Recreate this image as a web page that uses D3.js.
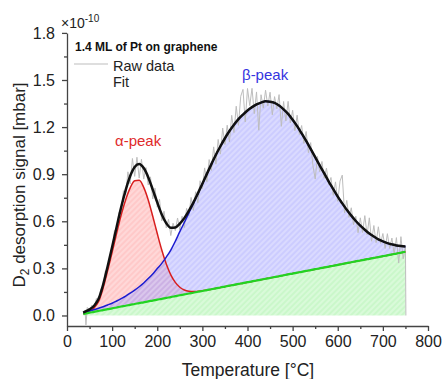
<!DOCTYPE html>
<html><head><meta charset="utf-8">
<script src="https://cdn.jsdelivr.net/npm/d3@7"></script>
<style>body{margin:0;background:#fff} svg{display:block} text{font-family:Arial,"Liberation Sans",sans-serif}</style>
</head><body><svg id="c" width="443" height="379"></svg>
<script>
// ---- data (values in units of 1e-10 mbar) ----
const fitT = [36,40,50,60,70,80,90,100,110,120,130,140,150,160,170,180,190,200,210,220,230,240,250,260,270,280,290,300,310,320,330,340,350,360,370,380,390,400,410,420,430,440,450,460,470,480,490,500,510,520,530,540,550,560,570,580,590,600,610,620,630,640,650,660,670,680,690,700,710,720,730,740,750];
const baseline = [0.010,0.012,0.018,0.023,0.029,0.034,0.040,0.045,0.051,0.057,0.062,0.068,0.073,0.079,0.084,0.090,0.095,0.101,0.106,0.112,0.117,0.123,0.129,0.134,0.140,0.145,0.151,0.156,0.162,0.167,0.173,0.178,0.184,0.190,0.195,0.201,0.206,0.212,0.217,0.223,0.228,0.234,0.239,0.245,0.250,0.256,0.262,0.267,0.273,0.278,0.284,0.289,0.295,0.300,0.306,0.311,0.317,0.322,0.328,0.334,0.339,0.345,0.350,0.356,0.361,0.367,0.372,0.378,0.383,0.389,0.394,0.400,0.406];
const alphaPeak = [0,0.003,0.010,0.025,0.060,0.140,0.245,0.358,0.472,0.582,0.675,0.745,0.785,0.782,0.732,0.646,0.537,0.421,0.311,0.216,0.142,0.088,0.051,0.028,0.014,0.007,0.003,0.001,0,0,0,0,0,0,0,0,0,0,0,0,0,0,0,0,0,0,0,0,0,0,0,0,0,0,0,0,0,0,0,0,0,0,0,0,0,0,0,0,0,0,0,0,0];
const betaPeak = [0.008,0.009,0.011,0.014,0.017,0.022,0.027,0.033,0.041,0.050,0.061,0.075,0.088,0.104,0.123,0.145,0.170,0.198,0.226,0.260,0.300,0.350,0.405,0.458,0.512,0.567,0.624,0.682,0.740,0.797,0.851,0.900,0.945,0.985,1.020,1.050,1.074,1.094,1.110,1.121,1.128,1.131,1.123,1.109,1.087,1.057,1.022,0.980,0.933,0.882,0.828,0.772,0.714,0.656,0.599,0.542,0.488,0.435,0.386,0.339,0.297,0.257,0.222,0.190,0.161,0.136,0.113,0.094,0.078,0.064,0.052,0.042,0.034];
const rawT = [40,42,45,50,55,60,65,70,75,80,85,90,95,100,105,110,115,120,125,130,135,140,145,150,155,160,165,170,175,180,185,190,195,200,205,210,215,220,225,230,235,240,245,250,255,260,265,270,275,280,285,290,295,300,305,310,315,320,325,330,335,340,345,350,355,360,365,370,375,380,385,390,395,400,405,410,415,420,425,430,435,440,445,450,455,460,465,470,475,480,485,490,495,500,505,510,515,520,525,530,535,540,545,550,555,560,565,570,575,580,585,590,595,600,605,610,615,620,625,630,635,640,645,650,655,660,665,670,675,680,685,690,695,700,705,710,715,720,725,730,735,740,745,750,751];
const rawV = [0.030,-0.060,0.051,0.029,0.065,0.042,0.108,0.096,0.170,0.181,0.284,0.292,0.384,0.406,0.540,0.544,0.657,0.649,0.795,0.768,0.915,0.838,1.000,0.886,1.008,0.875,0.995,0.869,0.942,0.831,0.883,0.742,0.811,0.690,0.741,0.603,0.664,0.558,0.612,0.509,0.588,0.541,0.621,0.545,0.632,0.560,0.682,0.636,0.752,0.669,0.788,0.718,0.858,0.809,0.940,0.852,0.993,0.924,1.074,0.964,1.121,1.028,1.194,1.089,1.212,1.105,1.275,1.165,1.333,1.211,1.396,1.440,1.233,1.446,1.337,1.447,1.286,1.424,1.180,1.406,1.321,1.435,1.334,1.422,1.278,1.394,1.316,1.407,1.205,1.363,1.239,1.364,1.226,1.307,1.177,1.276,1.153,1.210,1.096,1.172,1.037,1.101,0.955,0.869,1.013,0.916,0.981,0.875,0.939,0.833,0.879,0.765,0.851,0.727,0.856,0.894,0.654,0.733,0.625,0.686,0.579,0.632,0.527,0.622,0.529,0.636,0.514,0.622,0.473,0.573,0.464,0.565,0.459,0.522,0.427,0.521,0.427,0.493,0.390,0.496,0.334,0.502,0.361,0.440,0.000];
const xTicks = [0,100,200,300,400,500,600,700,800];
const xMinor = [50,150,250,350,450,550,650,750];
const yTicks = [0.0,0.3,0.6,0.9,1.2,1.5,1.8];
const yMinor = [0.15,0.45,0.75,1.05,1.35,1.65];

// ---- chart ----
const svg = d3.select("#c");
const x = d3.scaleLinear().domain([0,800]).range([67,428]);
const y = d3.scaleLinear().domain([-0.067,1.8]).range([326,32.9]);

const pts = fitT.map((t,i)=>({t, b:baseline[i], a:alphaPeak[i], be:betaPeak[i]}));

const defs = svg.append("defs");
function hatch(id, base, stripe){
  const p = defs.append("pattern").attr("id",id).attr("patternUnits","userSpaceOnUse")
    .attr("width",4).attr("height",4).attr("patternTransform","rotate(45)");
  p.append("rect").attr("width",4).attr("height",4).attr("fill",base);
  p.append("line").attr("x1",1).attr("y1",0).attr("x2",1).attr("y2",4).attr("stroke",stripe).attr("stroke-width",1.3);
}
hatch("hG","#96f096","#c4fac4");
hatch("hR","#ff9494","#ffc2c2");
hatch("hB","#9a9aff","#c6c6ff");

const cv = d3.curveMonotoneX;
const areaG = d3.area().x(d=>x(d.t)).y0(y(0)).y1(d=>y(d.b)).curve(cv);
const areaR = d3.area().x(d=>x(d.t)).y0(d=>y(d.b)).y1(d=>y(d.b+d.a)).curve(cv);
const areaB = d3.area().x(d=>x(d.t)).y0(d=>y(d.b)).y1(d=>y(d.b+d.be)).curve(cv);

svg.append("path").datum(pts).attr("d",areaG).attr("fill","url(#hG)").attr("fill-opacity",0.5);
svg.append("path").datum(pts).attr("d",areaR).attr("fill","url(#hR)").attr("fill-opacity",0.5);
svg.append("path").datum(pts).attr("d",areaB).attr("fill","url(#hB)").attr("fill-opacity",0.5);

// raw data
const raw = rawT.map((t,i)=>({t, v:rawV[i]}));
svg.append("path").datum(raw).attr("fill","none").attr("stroke","#bdbdbd").attr("stroke-width",1)
  .attr("d", d3.line().x(d=>x(d.t)).y(d=>y(d.v)));

const line = f => d3.line().x(d=>x(d.t)).y(d=>y(f(d))).curve(cv);
svg.append("path").datum(pts).attr("fill","none").attr("stroke","#d81e1e").attr("stroke-width",1.5).attr("d",line(d=>d.b+d.a));
svg.append("path").datum(pts).attr("fill","none").attr("stroke","#1c1cd0").attr("stroke-width",1.5).attr("d",line(d=>d.b+d.be));
svg.append("path").datum(pts).attr("fill","none").attr("stroke","#22d422").attr("stroke-width",2.2).attr("d",line(d=>d.b));
svg.append("path").datum(pts).attr("fill","none").attr("stroke","#111").attr("stroke-width",2.5).attr("d",line(d=>d.b+d.a+d.be));

// axes
const axCol = "#444";
function style(g){
  g.selectAll("path,line").attr("stroke",axCol).attr("stroke-width",1.3);
  g.selectAll("text").attr("fill","#222").attr("font-size","16px").attr("font-family","Arial, 'Liberation Sans', sans-serif");
}
const gy = svg.append("g").attr("transform","translate(67,0)")
  .call(d3.axisLeft(y).tickValues(yTicks).tickFormat(d3.format(".1f")).tickSize(5).tickPadding(7).tickSizeOuter(0));
style(gy);
const gym = svg.append("g").attr("transform","translate(67,0)")
  .call(d3.axisLeft(y).tickValues(yMinor).tickFormat("").tickSize(3).tickSizeOuter(0));
gym.select(".domain").remove(); style(gym);

const gx = svg.append("g").attr("transform","translate(0,326)")
  .call(d3.axisBottom(x).tickValues(xTicks).tickFormat(d3.format("d")).tickSize(5).tickPadding(5).tickSizeOuter(0));
style(gx);
const gxm = svg.append("g").attr("transform","translate(0,326)")
  .call(d3.axisBottom(x).tickValues(xMinor).tickFormat("").tickSize(3).tickSizeOuter(0));
gxm.select(".domain").remove(); style(gxm);

// multiplier
const mt = svg.append("text").attr("x",61).attr("y",28).attr("font-size","14px").attr("fill","#222");
mt.append("tspan").text("×10");
mt.append("tspan").attr("font-size","10px").attr("dy",-6).text("-10");

// legend
svg.append("text").attr("x",75).attr("y",51).attr("font-size","12px").attr("font-weight","bold").attr("fill","#111").text("1.4 ML of Pt on graphene");
svg.append("line").attr("x1",74).attr("x2",108).attr("y1",64).attr("y2",64).attr("stroke","#bdbdbd").attr("stroke-width",1.2);
svg.append("text").attr("x",113).attr("y",70.5).attr("font-size","14.5px").attr("fill","#222").text("Raw data");
svg.append("text").attr("x",113).attr("y",87).attr("font-size","14.5px").attr("fill","#222").text("Fit");

// peak labels
svg.append("text").attr("x",115).attr("y",146).attr("font-size","15px").attr("fill","#e02a2a").text("α-peak");
svg.append("text").attr("x",242).attr("y",80).attr("font-size","15px").attr("fill","#3434e0").text("β-peak");

// axis titles
svg.append("text").attr("x",248).attr("y",376).attr("text-anchor","middle").attr("font-size","17.5px").attr("fill","#222").text("Temperature [°C]");
const yt = svg.append("text").attr("transform","translate(25,185) rotate(-90)").attr("text-anchor","middle").attr("font-size","17px").attr("fill","#222");
yt.append("tspan").text("D");
yt.append("tspan").attr("font-size","12px").attr("dy",4).text("2");
yt.append("tspan").attr("dy",-4).text(" desorption signal [mbar]");
</script></body></html>
